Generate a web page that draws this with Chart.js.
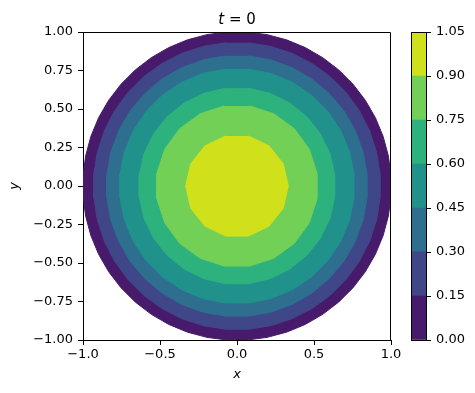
<!DOCTYPE html>
<html>
<head>
<meta charset="utf-8">
<script src="https://cdn.jsdelivr.net/npm/chart.js@4.4.1/dist/chart.umd.min.js"></script>
<style>
  html, body { margin: 0; padding: 0; background: #fff; }
  #wrap    { position: relative; width: 475px; height: 393px; }
  #mainBox { position: absolute; left: 0;     top: 0; }
  #cbarBox { position: absolute; left: 400px; top: 0; }
</style>
</head>
<body>
<div id="wrap">
  <div id="mainBox"><canvas id="fieldChart" width="420" height="393"></canvas></div>
  <div id="cbarBox"><canvas id="cbarChart" width="75" height="393"></canvas></div>
</div>
<script>
/* field at t = 0 on the unit disk — filled contour bands + colorbar */

const LEVELS      = [0, 0.15, 0.30, 0.45, 0.60, 0.75, 0.90, 1.05];
const BAND_COLORS = ["#481a6c", "#3f4788", "#2e6e8e", "#21918c", "#2db27d", "#73d056", "#d0e11c"];

// outer edge of each band (radius), outermost band first
const BAND_RADII  = [1.00, 0.93, 0.845, 0.76, 0.635, 0.52, 0.325];
const BAND_SIDES  = [48, 40, 36, 32, 28, 20, 14];

const X_TICKS    = [-1.0, -0.5, 0.0, 0.5, 1.0];
const Y_TICKS    = [-1.0, -0.75, -0.5, -0.25, 0.0, 0.25, 0.5, 0.75, 1.0];
const CBAR_TICKS = [0, 0.15, 0.30, 0.45, 0.60, 0.75, 0.90, 1.05];

const FONT = "'DejaVu Sans', 'Liberation Sans', sans-serif";
Chart.defaults.font.family = FONT;
Chart.defaults.font.size   = 13;
Chart.defaults.color       = "#000";

/* ── helpers ───────────────────────────────────────────── */
const minus = s => s.replace("-", "\u2212");

// polygon outline of a contour, flat edge on top so the read radius is the edge
function ring(r, n) {
  const R   = r / Math.cos(Math.PI / n);
  const a0  = Math.PI / 2 + Math.PI / n;
  const pts = [];
  for (let k = 0; k < n; k++) {
    const a = a0 + (2 * Math.PI * k) / n;
    pts.push({ x: R * Math.cos(a), y: R * Math.sin(a) });
  }
  return pts;
}

/* ── plugins: top/right spines + mathtext-like title ───── */
const frame = {
  id: "frame",
  afterDraw(chart) {
    const { ctx, chartArea: a } = chart;
    const l = Math.round(a.left) + 0.5, t = Math.round(a.top) + 0.5;
    const r = Math.round(a.right) - 0.5, b = Math.round(a.bottom) + 0.5;
    ctx.save();
    ctx.strokeStyle = "#000";
    ctx.lineWidth   = 1;
    ctx.beginPath();
    ctx.moveTo(l, t); ctx.lineTo(r, t); ctx.lineTo(r, b);
    ctx.stroke();
    ctx.restore();
  },
};

const mathTitle = {
  id: "mathTitle",
  afterDraw(chart) {
    const { ctx, chartArea: a } = chart;
    const italic  = "italic 15px " + FONT;
    const upright = "15px " + FONT;
    ctx.save();
    ctx.fillStyle    = "#000";
    ctx.textBaseline = "alphabetic";
    ctx.font = italic;  const wT = ctx.measureText("t").width;
    ctx.font = upright; const wR = ctx.measureText(" = 0").width;
    const x = (a.left + a.right) / 2 - (wT + wR) / 2;
    ctx.font = italic;  ctx.fillText("t", x, 24);
    ctx.font = upright; ctx.fillText(" = 0", x + wT, 24);
    ctx.restore();
  },
};

/* ── main contour plot ─────────────────────────────────── */
new Chart(document.getElementById("fieldChart"), {
  type: "scatter",
  data: {
    datasets: BAND_RADII.map((r, i) => ({
      data: ring(r, BAND_SIDES[i]),
      showLine: true,
      fill: "shape",
      backgroundColor: BAND_COLORS[i],
      borderColor: BAND_COLORS[i],
      borderWidth: 1,
      pointRadius: 0,
      pointHoverRadius: 0,
      order: BAND_RADII.length - i,   // inner bands painted last
    })),
  },
  options: {
    responsive: false,
    animation: false,
    events: [],
    layout: { padding: { left: 0, right: 29, top: 32, bottom: 0 } },
    plugins: { legend: { display: false }, tooltip: { enabled: false } },
    scales: {
      x: {
        type: "linear", min: -1, max: 1,
        afterBuildTicks: ax => { ax.ticks = X_TICKS.map(v => ({ value: v })); },
        afterFit: ax => { ax.height = 53; },
        grid:   { drawOnChartArea: false, drawTicks: true, tickLength: 5, color: "#000" },
        border: { display: true, color: "#000", width: 1 },
        ticks:  { padding: 2, maxRotation: 0, autoSkip: false, callback: v => minus(v.toFixed(1)) },
        title:  { display: true, text: "x", font: { style: "italic", size: 13 }, padding: { top: 0, bottom: 11 } },
      },
      y: {
        type: "linear", min: -1, max: 1,
        afterBuildTicks: ax => { ax.ticks = Y_TICKS.map(v => ({ value: v })); },
        afterFit: ax => { ax.width = 83; },
        grid:   { drawOnChartArea: false, drawTicks: true, tickLength: 5, color: "#000" },
        border: { display: true, color: "#000", width: 1 },
        ticks:  { padding: 5, autoSkip: false, callback: v => minus(v.toFixed(2)) },
        title:  { display: true, text: "y", font: { style: "italic", size: 13 }, padding: { top: 7, bottom: 0 } },
      },
    },
  },
  plugins: [frame, mathTitle],
});

/* ── colorbar ──────────────────────────────────────────── */
new Chart(document.getElementById("cbarChart"), {
  type: "bar",
  data: {
    labels: [""],
    datasets: BAND_COLORS.map((c, i) => ({
      data: [LEVELS[i + 1] - LEVELS[i]],
      backgroundColor: c,
      borderWidth: 0,
      barPercentage: 1,
      categoryPercentage: 1,
    })),
  },
  options: {
    responsive: false,
    animation: false,
    events: [],
    layout: { padding: { left: 11, right: 0, top: 32, bottom: 53 } },
    plugins: { legend: { display: false }, tooltip: { enabled: false } },
    scales: {
      x: { display: false, stacked: true },
      y: {
        position: "right", stacked: true, min: 0, max: 1.05,
        afterBuildTicks: ax => { ax.ticks = CBAR_TICKS.map(v => ({ value: v })); },
        afterFit: ax => { ax.width = 49; },
        grid:   { drawOnChartArea: false, drawTicks: true, tickLength: 5, color: "#000" },
        border: { display: true, color: "#000", width: 1 },
        ticks:  { padding: 5, autoSkip: false, callback: v => v.toFixed(2) },
      },
    },
  },
  plugins: [{
    id: "cbarFrame",
    afterDraw(chart) {
      const { ctx, chartArea: a } = chart;
      ctx.save();
      ctx.strokeStyle = "#000";
      ctx.lineWidth   = 1;
      ctx.strokeRect(Math.round(a.left) + 0.5, Math.round(a.top) + 0.5,
                     Math.round(a.width), Math.round(a.height));
      ctx.restore();
    },
  }],
});
</script>
</body>
</html>
